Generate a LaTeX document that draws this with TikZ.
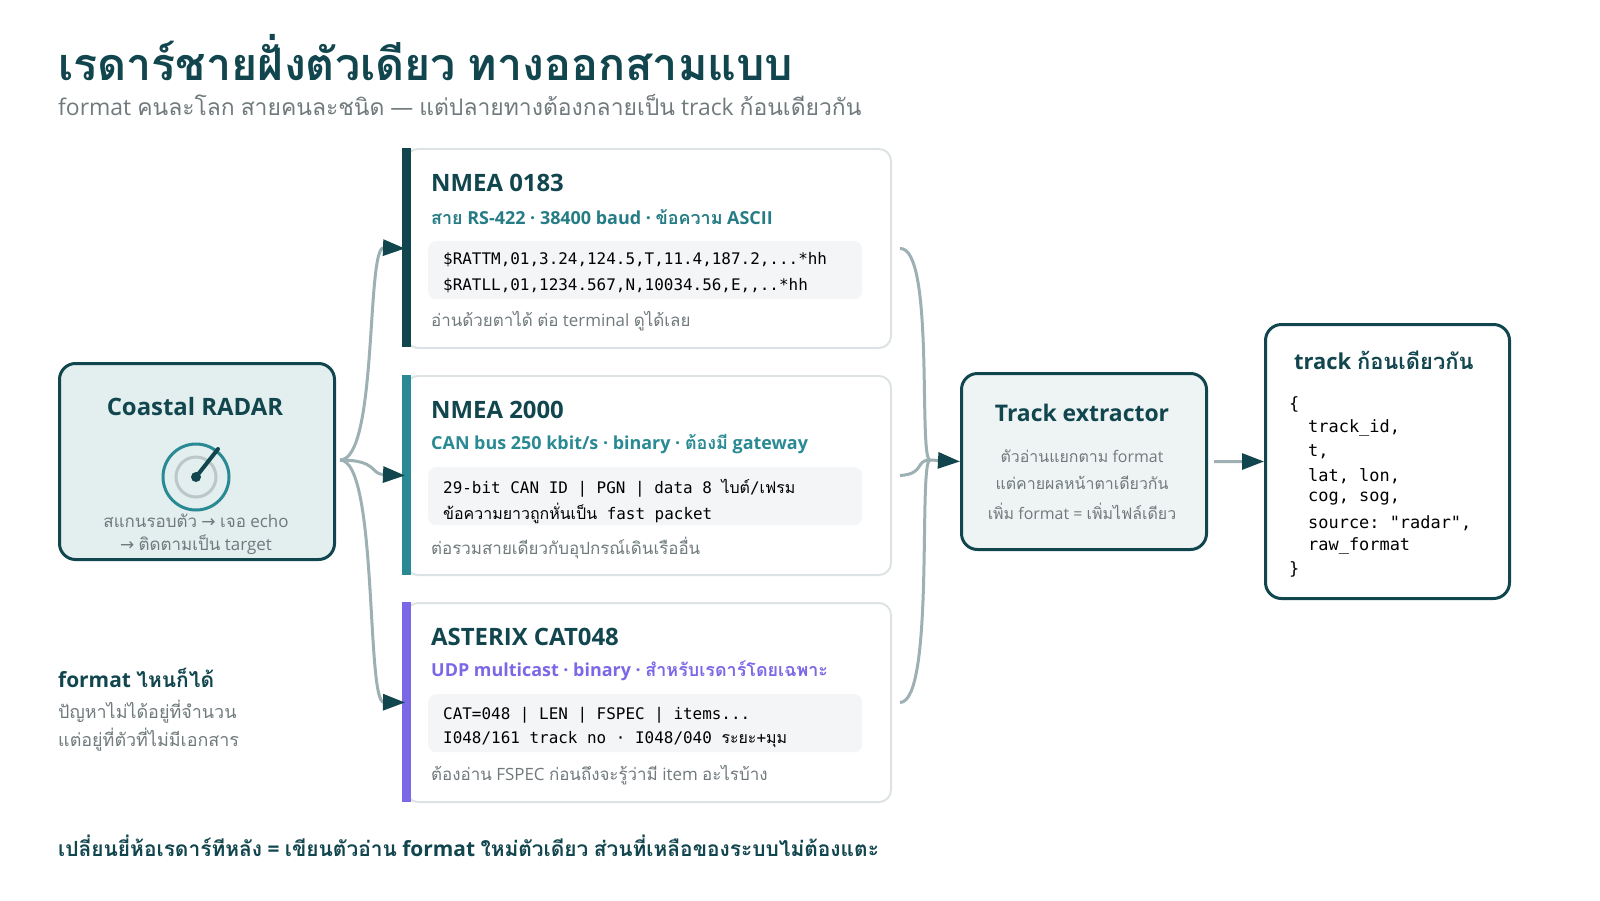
\documentclass[tikz,border=0pt]{standalone}
\usepackage{fontspec}
\usepackage{tikz}
\usetikzlibrary{arrows.meta}
\setmainfont{Open Sans}
\setmonofont{DejaVu Sans Mono}
\newfontfamily\thai[Script=Thai]{Loma}
\newfontfamily\symf{DejaVu Sans}
% Thai letters switch to Loma automatically
\XeTeXinterchartokenstate=1
\newXeTeXintercharclass\ThaiClass
\count255="0E00
\loop \XeTeXcharclass\count255=\ThaiClass \ifnum\count255<"0E7F \advance\count255 by 1 \repeat
\XeTeXinterchartoks 0 \ThaiClass = {\begingroup\thai}
\XeTeXinterchartoks 4095 \ThaiClass = {\begingroup\thai}
\XeTeXinterchartoks \ThaiClass 0 = {\endgroup}
\XeTeXinterchartoks \ThaiClass 4095 = {\endgroup}
\newcommand{\fs}[1]{\fontsize{#1}{#1}\selectfont}
\newcommand{\ra}{{\symf →}}
\definecolor{deep}{HTML}{12464F}
\definecolor{teal}{HTML}{2A8A93}
\definecolor{violet}{HTML}{7B68E6}
\definecolor{muted}{HTML}{707A7D}
\definecolor{wire}{HTML}{9DB0B3}
\definecolor{codebg}{HTML}{F3F5F6}
\definecolor{panel}{HTML}{E3EEEE}
\definecolor{panelb}{HTML}{EEF4F4}
\definecolor{edge}{HTML}{DDE3E4}

\tikzset{
  txt/.style={anchor=west, inner sep=0pt},
  card/.style={draw=edge, line width=2pt, fill=white, rounded corners=12bp, anchor=north west, minimum width=485bp, minimum height=199bp},
  bar/.style={line width=9bp},
  codebox/.style={fill=codebg, rounded corners=8bp, anchor=north west, minimum width=434bp, minimum height=58bp},
  block/.style={draw=deep, line width=3bp, rounded corners=16bp, anchor=north west},
  feed/.style={wire, line width=3bp, -{Triangle[color=deep, length=22bp, width=16bp]}},
  gather/.style={wire, line width=3bp},
}

\begin{document}
\begin{tikzpicture}[x=1bp, y=-1bp]
  \useasboundingbox (0,0) rectangle (1600,900);
  \node[txt, text=deep, font=\bfseries\fs{45}] (title) at (58,58) {เรดาร์ชายฝั่งตัวเดียว ทางออกสามแบบ};
  \node[txt, text=muted, font=\fs{23}] (subtitle) at (58,105) {format คนละโลก สายคนละชนิด — แต่ปลายทางต้องกลายเป็น track ก้อนเดียวกัน};

  % radar block
  \node[block, fill=panel, minimum width=275bp, minimum height=196bp] (radar) at (58,362) {};
  \node[text=deep, font=\bfseries\fs{24}, inner sep=0pt] (radartitle) at (195,407) {Coastal RADAR};
  \draw[teal, line width=3bp] (196,477) circle (33);
  \draw[wire!70, line width=3bp] (196,477) circle (20);
  \draw[deep, line width=4bp, line cap=round] (196,477) -- (218,449);
  \fill[deep] (196,477) circle (5);
  \node[text=muted, font=\fs{17}, inner sep=0pt] (radarA) at (196,521) {สแกนรอบตัว \ra{} เจอ echo};
  \node[text=muted, font=\fs{17}, inner sep=0pt] (radarB) at (196,545) {\ra{} ติดตามเป็น target};
  \coordinate (split) at (340,460);

  % three output cards
  \node[card] (nmeaA) at (405,148) {};
  \draw[bar, deep] (406,148) -- (406,347);
  \node[txt, text=deep, font=\bfseries\fs{24}] at (431,183) {NMEA 0183};
  \node[txt, text=teal!80!deep, font=\bfseries\fs{18}] at (431,217) {สาย RS-422 · 38400 baud · ข้อความ ASCII};
  \node[codebox] at (428,241) {};
  \node[txt, font=\ttfamily\fs{16}] at (443,260) {\$RATTM,01,3.24,124.5,T,11.4,187.2,...*hh};
  \node[txt, font=\ttfamily\fs{16}] at (443,286) {\$RATLL,01,1234.567,N,10034.56,E,,..*hh};
  \node[txt, text=muted, font=\fs{17}] at (431,321) {อ่านด้วยตาได้ ต่อ terminal ดูได้เลย};

  \node[card] (nmeaB) at (405,375) {};
  \draw[bar, teal] (406,375) -- (406,575);
  \node[txt, text=deep, font=\bfseries\fs{24}] at (431,410) {NMEA 2000};
  \node[txt, text=teal, font=\bfseries\fs{18}] at (431,444) {CAN bus 250 kbit/s · binary · ต้องมี gateway};
  \node[codebox] at (428,467) {};
  \node[txt, font=\ttfamily\fs{16}] at (443,488) {29-bit CAN ID | PGN | data 8 ไบต์/เฟรม};
  \node[txt, font=\ttfamily\fs{16}] at (443,513) {ข้อความยาวถูกหั่นเป็น fast packet};
  \node[txt, text=muted, font=\fs{17}] at (431,548) {ต่อรวมสายเดียวกับอุปกรณ์เดินเรืออื่น};

  \node[card] (asterix) at (405,602) {};
  \draw[bar, violet] (406,602) -- (406,802);
  \node[txt, text=deep, font=\bfseries\fs{24}] at (431,637) {ASTERIX CAT048};
  \node[txt, text=violet, font=\bfseries\fs{18}] at (431,671) {UDP multicast · binary · สำหรับเรดาร์โดยเฉพาะ};
  \node[codebox] at (428,694) {};
  \node[txt, font=\ttfamily\fs{16}] at (443,715) {CAT=048 | LEN | FSPEC | items...};
  \node[txt, font=\ttfamily\fs{16}] at (443,740) {I048/161 track no · I048/040 ระยะ+มุม};
  \node[txt, text=muted, font=\fs{17}] at (431,775) {ต้องอ่าน FSPEC ก่อนถึงจะรู้ว่ามี item อะไรบ้าง};

  % side note and footer
  \node[txt, text=deep, font=\bfseries\fs{21}] (note) at (58,678) {format ไหนก็ได้};
  \node[txt, text=muted, font=\fs{18}] at (58,712) {ปัญหาไม่ได้อยู่ที่จำนวน};
  \node[txt, text=muted, font=\fs{18}] at (58,740) {แต่อยู่ที่ตัวที่ไม่มีเอกสาร};
  \node[txt, text=deep, font=\bfseries\fs{21}] (footer) at (58,846) {เปลี่ยนยี่ห้อเรดาร์ทีหลัง = เขียนตัวอ่าน format ใหม่ตัวเดียว ส่วนที่เหลือของระบบไม่ต้องแตะ};

  % extractor and output
  \node[block, fill=panelb, minimum width=245bp, minimum height=176bp] (extract) at (960,372) {};
  \node[text=deep, font=\bfseries\fs{23}, inner sep=0pt] at (1082,413) {Track extractor};
  \node[text=muted, font=\fs{16}, inner sep=0pt] at (1082,456) {ตัวอ่านแยกตาม format};
  \node[text=muted, font=\fs{16}, inner sep=0pt] at (1082,483) {แต่คายผลหน้าตาเดียวกัน};
  \node[text=muted, font=\fs{16}, inner sep=0pt] at (1082,511) {เพิ่ม format = เพิ่มไฟล์เดียว};

  \node[block, fill=white, minimum width=244bp, minimum height=274bp] (track) at (1264,323) {};
  \node[txt, text=deep, font=\bfseries\fs{22}] at (1294,360) {track ก้อนเดียวกัน};
  \foreach \y/\ind/\code in {404/0/{\{}, 428/1/{track\_id,}, 452/1/{t,}, 476/1/{lat, lon,}, 499/1/{cog, sog,}, 523/1/{source: "radar",}, 546/1/{raw\_format}, 569/0/{\}}}
    \node[txt, font=\ttfamily\fs{17}] at (1289+19*\ind,\y) {\code};

  % connectors
  \draw[feed] (split) .. controls (378,460) and (366,247) .. (nmeaA.west);
  \draw[feed] (split) .. controls (378,460) and (370,474) .. (nmeaB.west);
  \draw[feed] (split) .. controls (378,460) and (366,702) .. (asterix.west);
  \coordinate (merge) at (930,460);
  \draw[gather] ([xshift=8bp]nmeaA.east) .. controls (935,247) and (918,460) .. (merge);
  \draw[gather] ([xshift=8bp]nmeaB.east) .. controls (925,474) and (915,460) .. (merge);
  \draw[gather] ([xshift=8bp]asterix.east) .. controls (935,702) and (918,460) .. (merge);
  \draw[feed] (merge) -- (extract.west);
  \draw[feed] ([xshift=6bp]extract.east) -- (track.west);
\end{tikzpicture}
\end{document}
